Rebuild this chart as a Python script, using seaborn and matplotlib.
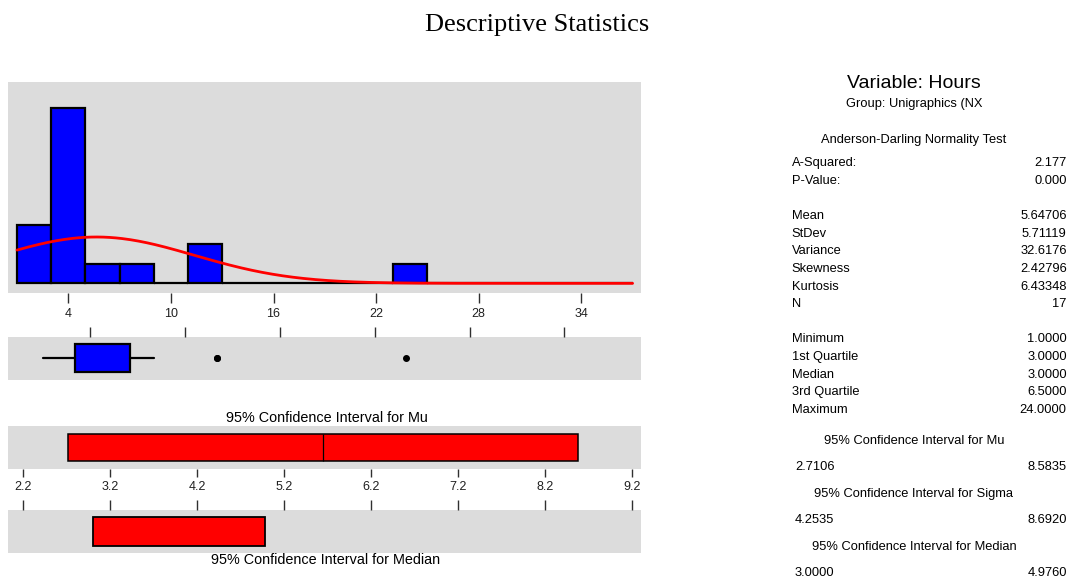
import numpy as np
import matplotlib
matplotlib.use("Agg")
import matplotlib.pyplot as plt
import seaborn as sns

# ---- data -------------------------------------------------------------
hours = [1, 2, 2, 3, 3, 3, 3, 3, 3, 4, 4, 4, 5, 8, 12, 12, 24]
hist_bin_edges = list(range(1, 39, 2))
hist_ticks = [4, 10, 16, 22, 28, 34]
box_ticks = [4, 10, 16, 22, 28, 34]
ci_ticks = [2.2, 3.2, 4.2, 5.2, 6.2, 7.2, 8.2, 9.2]

mu_ci = [2.7106, 8.5835]
median_ci = [3.0000, 4.9760]

variable_name = "Hours"
group_name = "Unigraphics (NX"

ad_labels = ["A-Squared:", "P-Value:"]
ad_values = ["2.177", "0.000"]
moment_labels = ["Mean", "StDev", "Variance", "Skewness", "Kurtosis", "N"]
moment_values = ["5.64706", "5.71119", "32.6176", "2.42796", "6.43348", "17"]
quantile_labels = ["Minimum", "1st Quartile", "Median", "3rd Quartile", "Maximum"]
quantile_values = ["1.0000", "3.0000", "3.0000", "6.5000", "24.0000"]
ci_titles = ["95% Confidence Interval for Mu",
             "95% Confidence Interval for Sigma",
             "95% Confidence Interval for Median"]
ci_lower = ["2.7106", "4.2535", "3.0000"]
ci_upper = ["8.5835", "8.6920", "4.9760"]

# ---- style ------------------------------------------------------------
sns.set_style("white")
plt.rcParams["font.family"] = ["Liberation Sans", "DejaVu Sans"]
plt.rcParams["text.color"] = "black"
PANEL = "#dcdcdc"
BLUE = "#0000ff"
RED = "#ff0000"
TICK = "#303030"

W, H = 1069, 577
fig = plt.figure(figsize=(W / 100, H / 100), dpi=100)


def px_axes(x0, y0, x1, y1):
    """Axes from pixel box (top-left origin)."""
    ax = fig.add_axes([x0 / W, 1 - y1 / H, (x1 - x0) / W, (y1 - y0) / H])
    ax.set_facecolor(PANEL)
    for s in ax.spines.values():
        s.set_visible(False)
    ax.set_yticks([])
    return ax


def ftxt(x, y, s, **kw):
    fig.text(x / W, 1 - y / H, s, **kw)


fig.text(537 / W, 1 - 25.5 / H, "Descriptive Statistics", ha="center", va="center",
         fontsize=19, family=["Liberation Serif", "DejaVu Serif"])

# ---- histogram with fitted normal curve -------------------------------
arr = np.array(hours, dtype=float)
n = arr.size
mean = arr.mean()
sd = arr.std(ddof=1)
bin_w = hist_bin_edges[1] - hist_bin_edges[0]

ax_h = px_axes(8.3, 82, 641, 292.7)
sns.histplot(x=hours, bins=hist_bin_edges, ax=ax_h, color=BLUE, alpha=1,
             edgecolor="black", linewidth=1.6, zorder=2)
xs = np.linspace(hist_bin_edges[0], hist_bin_edges[-1], 300)
ys = n * bin_w * np.exp(-0.5 * ((xs - mean) / sd) ** 2) / (sd * np.sqrt(2 * np.pi))
sns.lineplot(x=xs, y=ys, ax=ax_h, color=RED, linewidth=2, zorder=3)
ax_h.set_xlim(0.49, 37.49)
ax_h.set_ylim(-0.48, 10.32)
ax_h.set_xticks(hist_ticks)
ax_h.set_xlabel("")
ax_h.set_ylabel("")
ax_h.tick_params(axis="x", direction="out", length=7.2, width=1, color=TICK,
                 labelsize=9, pad=3.5, bottom=True, labelcolor="#202020")

# ---- boxplot (quartiles at (n+1)p positions) -------------------------
q1, med, q3 = np.percentile(arr, [25, 50, 75], method="weibull")
iqr = q3 - q1
lo = arr[arr >= q1 - 1.5 * iqr].min()
hi = arr[arr <= q3 + 1.5 * iqr].max()
fliers = arr[(arr < lo) | (arr > hi)]
stats = [dict(med=med, q1=q1, q3=q3, whislo=lo, whishi=hi, fliers=fliers)]

ax_b = px_axes(8.3, 336.7, 641, 380)
ax_b.bxp(stats, positions=[0], widths=0.65, orientation="horizontal",
         patch_artist=True, showcaps=False,
         boxprops=dict(facecolor=BLUE, edgecolor="black", linewidth=1.6),
         medianprops=dict(color="black", linewidth=1.2),
         whiskerprops=dict(color="black", linewidth=1.6),
         flierprops=dict(marker="o", markerfacecolor="black",
                         markeredgecolor="black", markersize=4))
ax_b.set_xlim(-1.19, 38.85)
ax_b.set_ylim(-0.5, 0.5)
ax_b.set_yticks([])
ax_b.set_xticks(box_ticks)
ax_b.xaxis.set_ticks_position("top")
ax_b.tick_params(axis="x", direction="out", length=7.2, width=1, color=TICK,
                 top=True, bottom=False, labeltop=False, labelbottom=False)

# ---- confidence interval panels ---------------------------------------
ftxt(326.5, 418, ci_titles[0], ha="center", va="center", fontsize=10.4)

ax_mu = px_axes(8.3, 426, 641, 469.3)
ax_mu.barh(0, mu_ci[1] - mu_ci[0], left=mu_ci[0], height=0.63, color=RED,
           edgecolor="black", linewidth=1.1)
ax_mu.vlines(mean, -0.315, 0.315, color="black", linewidth=0.9)
ax_mu.set_xlim(2.027, 9.308)
ax_mu.set_ylim(-0.5, 0.5)
ax_mu.set_xticks(ci_ticks)
ax_mu.tick_params(axis="x", direction="out", length=6, width=1, color=TICK,
                  labelsize=9, pad=2.5, bottom=True, labelcolor="#202020")

ax_md = px_axes(8.3, 510, 641, 553.3)
ax_md.barh(0, median_ci[1] - median_ci[0], left=median_ci[0], height=0.68,
           color=RED, edgecolor="black", linewidth=1.3)
ax_md.set_xlim(2.027, 9.308)
ax_md.set_ylim(-0.5, 0.5)
ax_md.set_xticks(ci_ticks)
ax_md.xaxis.set_ticks_position("top")
ax_md.tick_params(axis="x", direction="out", length=7.2, width=1, color=TICK,
                  top=True, bottom=False, labeltop=False, labelbottom=False)

ftxt(326, 560, ci_titles[2], ha="center", va="center", fontsize=10.4)

# ---- summary text panel -----------------------------------------------
cx, lx, rx = 914, 791.7, 1066.7
fs = 9.3
dy = 1.3
ftxt(cx, 81.7 + dy, f"Variable: {variable_name}", ha="center", va="center", fontsize=14)
ftxt(cx, 102.7 + dy, f"Group: {group_name}", ha="center", va="center", fontsize=fs)
ftxt(cx, 138.3 + dy, "Anderson-Darling Normality Test", ha="center", va="center",
     fontsize=fs)

row0, step = 161.7 + dy, 17.65
rows = ([(l, v) for l, v in zip(ad_labels, ad_values)] + [None]
        + [(l, v) for l, v in zip(moment_labels, moment_values)] + [None]
        + [(l, v) for l, v in zip(quantile_labels, quantile_values)])
for i, item in enumerate(rows):
    if item is None:
        continue
    y = row0 + i * step
    ftxt(lx, y, item[0], ha="left", va="center", fontsize=fs)
    ftxt(rx, y, item[1], ha="right", va="center", fontsize=fs)

for k, title in enumerate(ci_titles):
    y = 440 + dy + k * 53
    ftxt(cx, y, title, ha="center", va="center", fontsize=fs)
    ftxt(795, y + 25.5, ci_lower[k], ha="left", va="center", fontsize=fs)
    ftxt(rx, y + 25.5, ci_upper[k], ha="right", va="center", fontsize=fs)

fig.savefig("out.png", dpi=100, facecolor="white")
